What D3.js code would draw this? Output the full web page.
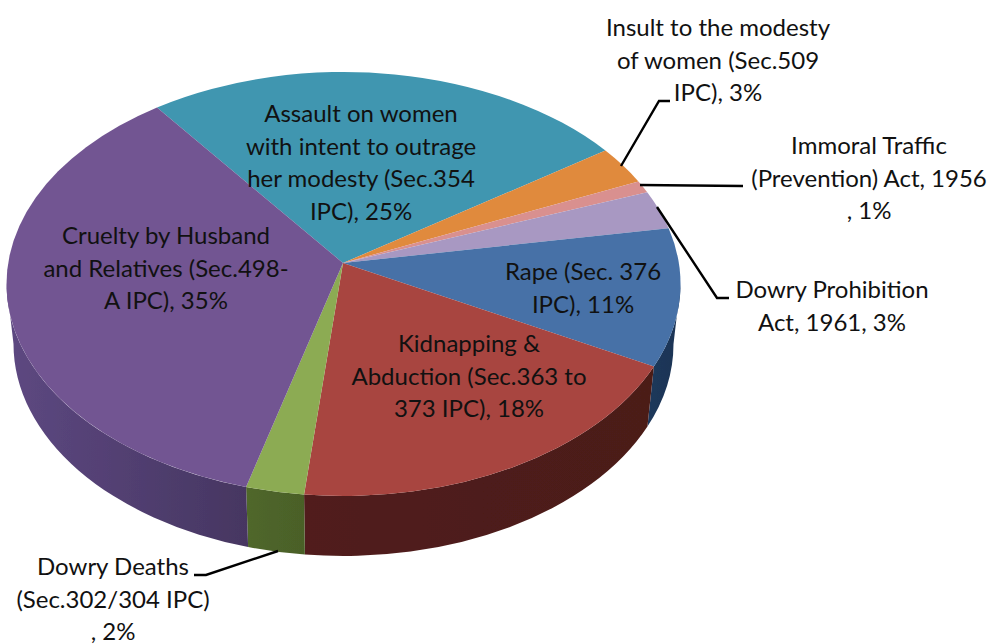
<!DOCTYPE html>
<html>
<head>
<meta charset="utf-8">
<script src="https://cdn.jsdelivr.net/npm/d3@7"></script>
<style>
  html, body { margin: 0; padding: 0; background: #fff; }
  text { font-family: Lato, "Open Sans", sans-serif; font-size: 24px; fill: #111; text-anchor: middle; }
</style>
</head>
<body>
<div id="chart-area"></div>
<script>
// categories, clockwise from the top-left edge of the teal slice
var categories = ["Assault", "Insult", "Immoral Traffic", "Dowry Prohibition", "Rape", "Kidnapping", "Dowry Deaths", "Cruelty"];
// share of the drawn ellipse per slice (3D perspective
// makes these differ a little from the printed percentages)
var shares = [23.5, 2.8, 0.9, 2.9, 10.6, 20.5, 2.8, 36.0];
var labels = [
  ["Assault on women", "with intent to outrage", "her modesty (Sec.354", "IPC), 25%"],
  ["Insult to the modesty", "of women (Sec.509", "IPC), 3%"],
  ["Immoral Traffic", "(Prevention) Act, 1956", ", 1%"],
  ["Dowry Prohibition", "Act, 1961, 3%"],
  ["Rape (Sec. 376", "IPC), 11%"],
  ["Kidnapping &", "Abduction (Sec.363 to", "373 IPC), 18%"],
  ["Dowry Deaths", "(Sec.302/304 IPC)", ", 2%"],
  ["Cruelty by Husband", "and Relatives (Sec.498-", "A IPC), 35%"]
];

// layout and styling, by slice
var topColors = ["#3f96b0", "#e08a3e", "#d9908f", "#a898c2", "#4671a7", "#a8443f", "#8cab52", "#725592"];
var wallColors = ["#24596a", "#8a5020", "#804f4f", "#5f5478", "#1d3658", "#4e1c1a", "#4d6329", "#4e3c6c"];
var labelX = [361, 718, 869, 832, 583, 469, 113, 166];
var labelY = [114, 28, 146, 290, 272, 344, 567, 236];
var lineGap = 32.7;
var leaders = [
  null,
  [[621, 166], [659, 101], [670, 101]],
  [[640, 185], [743, 186]],
  [[657, 207], [717, 298], [729, 298]],
  null, null,
  [[278, 551], [206, 575], [194, 575]],
  null
];

var width = 995, height = 644;
var startDeg = 326.4;

// the pie is an ellipse seen in perspective: the slices meet above its centre
var apex = { x: 343, y: 263 };
var topFace = { cx: 343.5, cy: 284, rx: 337, ry: 212 };
var bottomFace = { cx: 343.5, cy: 344, rx: 330, ry: 212 };

var svg = d3.select("#chart-area").append("svg")
  .attr("width", width)
  .attr("height", height);

var defs = svg.append("defs");
defs.append("filter").attr("id", "soft")
  .append("feGaussianBlur").attr("stdDeviation", 0.5);

var pie = d3.pie().sort(null)
  .startAngle(startDeg * Math.PI / 180)
  .endAngle((startDeg + 360) * Math.PI / 180);
var slices = pie(shares);

function point(face, a) {
  var x = d3.scaleLinear().domain([-1, 1]).range([face.cx - face.rx, face.cx + face.rx]);
  var y = d3.scaleLinear().domain([-1, 1]).range([face.cy - face.ry, face.cy + face.ry]);
  return [x(Math.sin(a)), y(-Math.cos(a))];
}

function arcTo(face, a0, a1) {
  var p = point(face, a1);
  var big = Math.abs(a1 - a0) > Math.PI ? 1 : 0;
  var sweep = a1 > a0 ? 1 : 0;
  return "A" + face.rx + "," + face.ry + " 0 " + big + " " + sweep + " " + p[0] + "," + p[1];
}

var pieG = svg.append("g").attr("filter", "url(#soft)");

// side walls, only the part below the ellipse's widest line shows
var lo = Math.PI / 2, hi = 3 * Math.PI / 2;
slices.forEach(function (d, i) {
  for (var turn = -2 * Math.PI; turn <= 2 * Math.PI; turn += 2 * Math.PI) {
    var a0 = Math.max(d.startAngle + turn, lo);
    var a1 = Math.min(d.endAngle + turn, hi);
    if (a1 <= a0) continue;
    var s = point(topFace, a0);
    var b = point(bottomFace, a1);
    var path = "M" + s[0] + "," + s[1] + arcTo(topFace, a0, a1) +
      "L" + b[0] + "," + b[1] + arcTo(bottomFace, a1, a0) + "Z";
    var grad = defs.append("linearGradient").attr("id", "wall" + i);
    grad.append("stop").attr("offset", 0).attr("stop-color", d3.color(wallColors[i]).brighter(i == 7 ? 0.5 : 0.1));
    grad.append("stop").attr("offset", 1).attr("stop-color", d3.color(wallColors[i]).darker(i == 7 ? 0.3 : 0.1));
    pieG.append("path").attr("d", path).attr("fill", "url(#wall" + i + ")");
  }
});

// top faces
pieG.selectAll("path.slice").data(slices).enter().append("path")
  .attr("class", "slice")
  .attr("fill", function (d, i) { return topColors[i]; })
  .attr("d", function (d) {
    var p = point(topFace, d.startAngle);
    return "M" + apex.x + "," + apex.y + "L" + p[0] + "," + p[1] + arcTo(topFace, d.startAngle, d.endAngle) + "Z";
  });

// leader lines
var leaderLine = d3.line();
svg.selectAll("path.leader").data(leaders.filter(Boolean)).enter().append("path")
  .attr("class", "leader")
  .attr("d", leaderLine)
  .attr("fill", "none")
  .attr("stroke", "#000")
  .attr("stroke-width", 2.4);

// labels
labels.forEach(function (lines, i) {
  svg.selectAll(null).data(lines).enter().append("text")
    .attr("x", labelX[i])
    .attr("y", function (d, k) { return labelY[i] + k * lineGap; })
    .attr("dy", "0.33em")
    .text(function (d) { return d; });
});
</script>
</body>
</html>
